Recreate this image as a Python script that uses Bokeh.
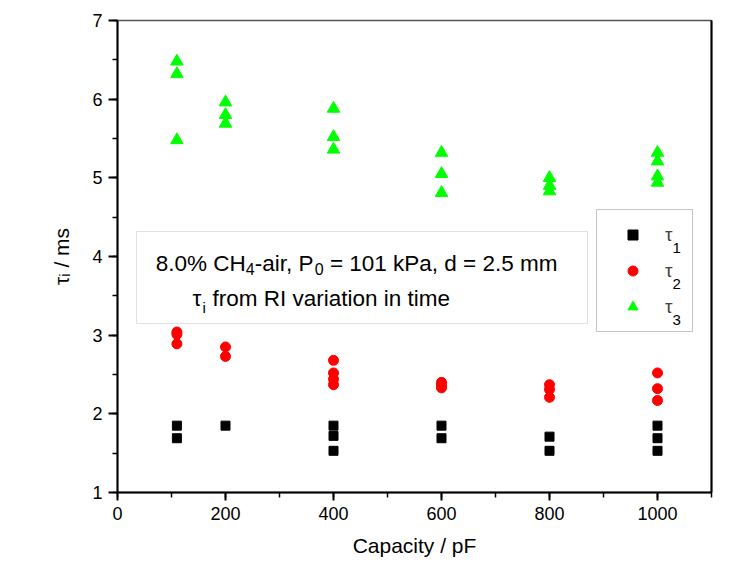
from bokeh.plotting import figure
from bokeh.models import (Range1d, FixedTicker, LinearAxis, Label, BoxAnnotation,
                          Legend, LegendItem)
from bokeh.embed import file_html
from bokeh.resources import INLINE

# ---------------- data ----------------
capacity_tau1 = [110, 110, 200, 400, 400, 400, 600, 600, 800, 800, 1000, 1000, 1000]
tau1 = [1.85, 1.69, 1.85, 1.85, 1.72, 1.53, 1.85, 1.69, 1.71, 1.53, 1.85, 1.69, 1.53]

capacity_tau2 = [110, 110, 110, 200, 200, 400, 400, 400, 400, 600, 600, 600,
                 800, 800, 800, 1000, 1000, 1000]
tau2 = [3.04, 3.01, 2.89, 2.85, 2.73, 2.68, 2.52, 2.44, 2.37, 2.40, 2.37, 2.33,
        2.37, 2.31, 2.21, 2.52, 2.32, 2.17]

capacity_tau3 = [110, 110, 110, 200, 200, 200, 400, 400, 400, 600, 600, 600,
                 800, 800, 800, 1000, 1000, 1000, 1000]
tau3 = [6.48, 6.32, 5.48, 5.96, 5.80, 5.69, 5.88, 5.52, 5.36, 5.32, 5.05, 4.81,
        5.00, 4.90, 4.83, 5.32, 5.21, 5.02, 4.94]

x_ticks = [0, 200, 400, 600, 800, 1000]
y_ticks = [1, 2, 3, 4, 5, 6, 7]
x_title = "Capacity / pF"
y_title = "τᵢ / ms"

FONT = "Liberation Sans"

# ---------------- figure ----------------
p = figure(width=740, height=565, x_range=Range1d(0, 1100), y_range=Range1d(1, 7),
           output_backend="svg", toolbar_location=None,
           min_border_left=117, min_border_right=29, min_border_top=20, min_border_bottom=73,
           background_fill_color="white", border_fill_color="white",
           outline_line_color="#555555", outline_line_width=1.5)
p.grid.visible = False

x_minor = [i * 100 for i in range(12)]
y_minor = [1 + i * 0.5 for i in range(13)]
p.xaxis.ticker = FixedTicker(ticks=x_ticks, minor_ticks=x_minor)
p.yaxis.ticker = FixedTicker(ticks=y_ticks, minor_ticks=y_minor)

for ax in (p.xaxis[0], p.yaxis[0]):
    ax.axis_line_width = 2
    ax.axis_line_color = "black"
    ax.major_tick_line_width = 2
    ax.minor_tick_line_width = 1.5
    ax.major_tick_in = 0
    ax.minor_tick_in = 0
    ax.major_label_text_font = FONT
    ax.major_label_text_font_size = "18px"
    ax.major_label_text_color = "black"
    ax.axis_label_text_font = FONT
    ax.axis_label_text_font_style = "normal"
    ax.axis_label_text_color = "black"
p.xaxis.major_tick_out = 8
p.xaxis.minor_tick_out = 5
p.yaxis.major_tick_out = 9
p.yaxis.minor_tick_out = 5
p.xaxis.major_label_standoff = 6
p.yaxis.major_label_standoff = 6
p.xaxis.axis_label = x_title
p.xaxis.axis_label_text_font_size = "21px"
p.xaxis.axis_label_standoff = 11
p.yaxis.axis_label = y_title
p.yaxis.axis_label_text_font_size = "21px"
p.yaxis.axis_label_standoff = 16

right_axis = LinearAxis(ticker=FixedTicker(ticks=[]), major_tick_line_color=None,
                        minor_tick_line_color=None, axis_line_width=2,
                        axis_line_color="black")
p.add_layout(right_axis, "right")

# ---------------- data glyphs ----------------
r1 = p.scatter(capacity_tau1, tau1, marker="square", size=9, color="black")
r2 = p.scatter(capacity_tau2, tau2, marker="circle", size=10, color="#ff0000")
r3 = p.scatter(capacity_tau3, tau3, marker="triangle", size=12.5, color="#00ff00")

legend = Legend(items=[LegendItem(label="τ", renderers=[r1]),
                       LegendItem(label="τ", renderers=[r2]),
                       LegendItem(label="τ", renderers=[r3])],
                location=(479, 160), orientation="vertical",
                border_line_color="#8c8c8c", border_line_width=1,
                background_fill_alpha=0,
                label_text_font=FONT, label_text_font_size="19px",
                padding=12, spacing=11, glyph_width=47, glyph_height=25,
                label_standoff=9, label_width=15, label_height=20, margin=0)
p.add_layout(legend)


def lab(text, x, y, size, level="annotation"):
    p.add_layout(Label(x=x, y=y, x_units="screen", y_units="screen", text=text,
                       text_font=FONT, text_font_size=f"{size}px", text_color="black",
                       text_align="left", text_baseline="alphabetic", level=level))


# legend subscripts
for k, fy in zip(["1", "2", "3"], [245, 209, 173]):
    lab(k, 555, fy, 15, level="overlay")

# ---------------- annotation box ----------------
p.add_layout(BoxAnnotation(left=19, right=470, bottom=169, top=261,
                           left_units="screen", right_units="screen",
                           bottom_units="screen", top_units="screen",
                           fill_color="white", fill_alpha=1,
                           line_color="#9a9a9a", line_width=1))

F = 22.5
FS = 16
x = 38.3
lab("8.0% CH", x, 229, F)
x += 4.001 * F
lab("4", x, 224, FS)
x += 0.556 * FS
lab("-air, P", x, 229, F)
x += 2.667 * F
lab("0", x, 224, FS)
x += 0.556 * FS + 0.278 * F
lab("= 101 kPa, d = 2.5 mm", x, 229, F)

lab("τ", 75, 194, F)
lab("i", 85, 185, 15)
lab("from RI variation in time", 95, 194, F)

open("out.html", "w").write(file_html(p, INLINE))
